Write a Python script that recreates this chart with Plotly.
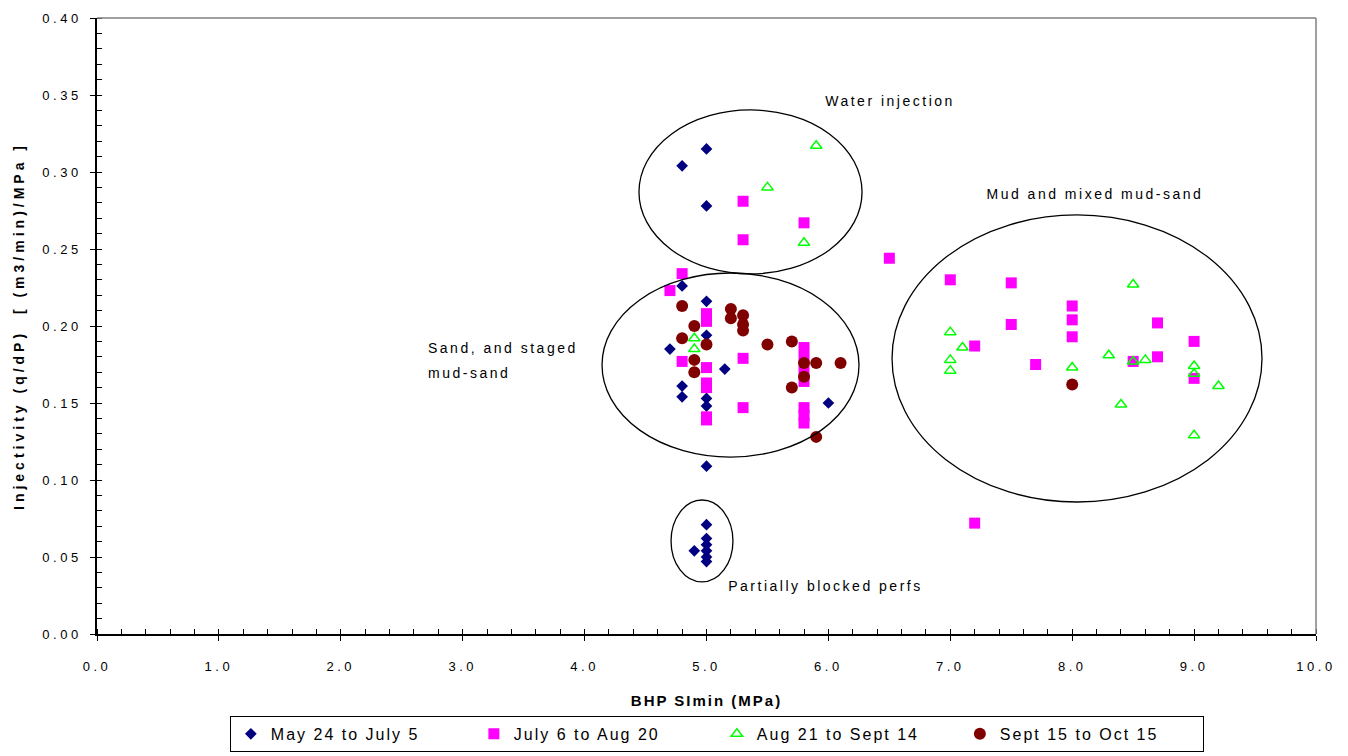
import plotly.graph_objects as go

# ---------------- data ----------------
may_x = [4.8, 5.0, 5.0, 4.8, 5.0, 5.0, 4.7, 4.8, 4.8, 5.15, 5.0, 5.0, 5.0, 6.0,
         5.0, 4.9, 5.0, 5.0, 5.0, 5.0, 5.0]
may_y = [0.304, 0.315, 0.278, 0.226, 0.216, 0.194, 0.185, 0.161, 0.154, 0.172, 0.153, 0.148, 0.109, 0.150,
         0.071, 0.054, 0.062, 0.058, 0.054, 0.050, 0.047]

jul_x = [5.3, 5.8, 5.3, 4.8, 4.7, 6.5,
         5.0, 5.0, 4.8, 5.0, 5.0, 5.0, 5.0, 5.0,
         5.3, 5.3,
         5.8, 5.8, 5.8, 5.8, 5.8, 5.8, 5.8,
         7.0, 7.5, 7.5, 7.2, 7.7, 8.0, 8.0, 8.0, 8.7, 8.7, 8.5, 9.0, 9.0, 7.2]
jul_y = [0.281, 0.267, 0.256, 0.234, 0.223, 0.244,
         0.208, 0.203, 0.177, 0.173, 0.163, 0.160, 0.141, 0.139,
         0.179, 0.147,
         0.186, 0.179, 0.171, 0.164, 0.147, 0.142, 0.137,
         0.230, 0.228, 0.201, 0.187, 0.175, 0.213, 0.204, 0.193, 0.202, 0.180, 0.177, 0.190, 0.166, 0.072]

aug_x = [5.9, 5.5, 5.8, 4.9, 4.9,
         8.5, 7.0, 7.1, 7.0, 7.0, 8.0, 8.3, 8.5, 8.6, 9.0, 9.0, 9.2, 8.4, 9.0]
aug_y = [0.317, 0.290, 0.254, 0.192, 0.185,
         0.227, 0.196, 0.186, 0.178, 0.171, 0.173, 0.181, 0.177, 0.178, 0.174, 0.169, 0.161, 0.149, 0.129]

sep_x = [4.8, 4.9, 4.8, 5.0, 4.9, 4.9, 5.2, 5.2, 5.3, 5.3, 5.3, 5.5, 5.7, 5.8, 5.9, 6.1, 5.8, 5.7, 5.9, 8.0]
sep_y = [0.213, 0.200, 0.192, 0.188, 0.178, 0.170, 0.211, 0.205, 0.207, 0.201, 0.197, 0.188, 0.190, 0.176,
         0.176, 0.176, 0.167, 0.160, 0.128, 0.162]

series_names = ["May 24 to July 5", "July 6 to Aug 20", "Aug 21 to Sept 14", "Sept 15 to Oct 15"]

# grouping ellipses (x0, x1, y0, y1) in data units
ellipses = [
    (4.446, 6.276, 0.2338, 0.3403),   # water injection
    (4.143, 6.251, 0.1149, 0.2344),   # sand, staged mud-sand
    (6.522, 9.557, 0.0857, 0.2721),   # mud and mixed mud-sand
    (4.709, 5.217, 0.0338, 0.0870),   # partially blocked perfs
]
labels = [
    ("Water injection", 6.505, 0.3461, "center"),
    ("Mud and mixed mud-sand", 8.187, 0.2857, "center"),
    ("Sand, and staged", 2.70, 0.1857, "left"),
    ("mud-sand", 2.70, 0.1695, "left"),
    ("Partially blocked perfs", 5.98, 0.0312, "center"),
]

x_ticks = [0, 1, 2, 3, 4, 5, 6, 7, 8, 9, 10]
y_ticks = [0.00, 0.05, 0.10, 0.15, 0.20, 0.25, 0.30, 0.35, 0.40]

FONT = "Arial, Liberation Sans, sans-serif"

fig = go.Figure()
fig.add_trace(go.Scatter(x=may_x, y=may_y, mode="markers", name=series_names[0],
                         marker=dict(symbol="diamond", size=9, color="#000080")))
fig.add_trace(go.Scatter(x=jul_x, y=jul_y, mode="markers", name=series_names[1],
                         marker=dict(symbol="square", size=11, color="#FF00FF")))
fig.add_trace(go.Scatter(x=aug_x, y=aug_y, mode="markers", name=series_names[2],
                         marker=dict(symbol="triangle-up-open", size=10, color="#00FF00",
                                     line=dict(width=1.5, color="#00FF00"))))
fig.add_trace(go.Scatter(x=sep_x, y=sep_y, mode="markers", name=series_names[3],
                         marker=dict(symbol="circle", size=12, color="#800000")))
# empty helper trace so the overlay axes (inner half of the crossing major ticks) are drawn
fig.add_trace(go.Scatter(x=[], y=[], xaxis="x2", yaxis="y2", showlegend=False, hoverinfo="skip"))

for (x0, x1, y0, y1) in ellipses:
    fig.add_shape(type="circle", xref="x", yref="y", x0=x0, x1=x1, y0=y0, y1=y1,
                  line=dict(color="black", width=1.3), fillcolor="rgba(0,0,0,0)")

for (txt, ax, ay, al) in labels:
    fig.add_annotation(x=ax, y=ay, xref="x", yref="y", text=txt, showarrow=False,
                       xanchor=al, align=al, font=dict(family=FONT, size=14, color="black"))

# top and right frame lines (grey)
fig.add_shape(type="line", xref="paper", yref="paper", x0=0, x1=1, y0=1, y1=1,
              line=dict(color="#808080", width=1.5))
fig.add_shape(type="line", xref="paper", yref="paper", x0=1, x1=1, y0=0, y1=1,
              line=dict(color="#808080", width=1.5))

fig.update_layout(
    width=1348, height=756,
    margin=dict(l=97, r=32, t=18, b=122, autoexpand=False),
    paper_bgcolor="white", plot_bgcolor="white",
    font=dict(family=FONT, size=14, color="black"),
    showlegend=True,
    legend=dict(orientation="h", x=0.5085, xanchor="center", y=-0.133, yanchor="top",
                bordercolor="black", borderwidth=1, entrywidth=198, itemwidth=30,
                font=dict(family=FONT, size=16, color="black")),
    xaxis=dict(range=[0, 10], tickvals=x_ticks, ticktext=[f"{v:.1f}" for v in x_ticks],
               showgrid=False, zeroline=False, showline=True, linecolor="black", linewidth=1.5,
               ticks="outside", ticklen=5, tickcolor="black",
               minor=dict(dtick=0.2, ticks="inside", ticklen=5, tickcolor="black", showgrid=False),
               tickfont=dict(family=FONT, size=13), ticklabelstandoff=15,
               title=dict(text="<b>BHP SImin (MPa)</b>", font=dict(family=FONT, size=15), standoff=22)),
    yaxis=dict(range=[0, 0.40], tickvals=y_ticks, ticktext=[f"{v:.2f}" for v in y_ticks],
               showgrid=False, zeroline=False, showline=True, linecolor="black", linewidth=1.5,
               ticks="outside", ticklen=5, tickcolor="black",
               minor=dict(dtick=0.01, ticks="inside", ticklen=5, tickcolor="black", showgrid=False),
               tickfont=dict(family=FONT, size=13), ticklabelstandoff=6,
               title=dict(text="<b>Injectivity (q/dP)  [ (m3/min)/MPa ]</b>", font=dict(family=FONT, size=14),
                          standoff=28)),
    xaxis2=dict(overlaying="x", matches="x", range=[0, 10], tickvals=x_ticks, ticks="inside", ticklen=5,
                tickcolor="black", showticklabels=False, showline=False, showgrid=False, zeroline=False,
                side="bottom", anchor="y"),
    yaxis2=dict(overlaying="y", matches="y", range=[0, 0.40], tickvals=y_ticks, ticks="inside", ticklen=5,
                tickcolor="black", showticklabels=False, showline=False, showgrid=False, zeroline=False,
                side="left", anchor="x"),
)

# the original (spreadsheet export) draws its text horizontally stretched: widen with letter spacing
css = (".xtick text, .ytick text {letter-spacing: 3.5px;}"
       " .annotation-text {letter-spacing: 2.5px;}"
       " .legendtext {letter-spacing: 2px;}"
       " .g-xtitle text {letter-spacing: 2px;}"
       " .g-ytitle text {letter-spacing: 4px;}")
post = ("var st=document.createElement('style');st.textContent=%r;document.head.appendChild(st);" % css)

fig.write_html("out.html", post_script=post)
